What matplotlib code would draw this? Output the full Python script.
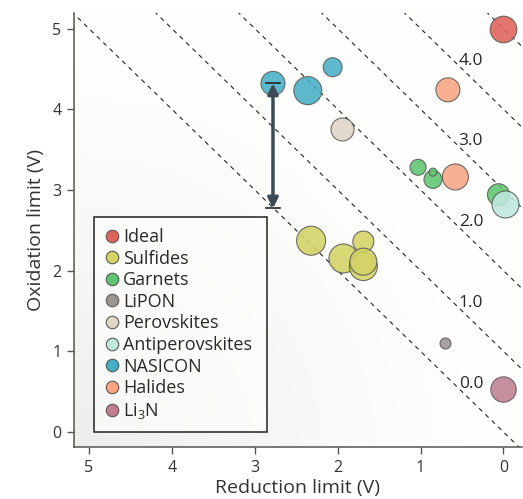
import numpy as np
import matplotlib
matplotlib.use("Agg")
import matplotlib.pyplot as plt
from matplotlib.lines import Line2D

FONT = 'Open Sans'
plt.rcParams['font.family'] = [FONT, 'DejaVu Sans']
plt.rcParams['mathtext.fontset'] = 'custom'
plt.rcParams['mathtext.rm'] = FONT

# ---- data ----
categories = ["Ideal", "Sulfides", "Garnets", "LiPON", "Perovskites",
              "Antiperovskites", "NASICON", "Halides", "Li$_3$N"]
colors = ["#e0625a", "#d3d365", "#5ec46f", "#9b9592", "#ded6c6",
          "#bfe8de", "#45afc4", "#f9a584", "#c07f91"]

# reduction limit (V), oxidation limit (V), bubble radius (px)
ideal_x = [0.0];  ideal_y = [4.99]; ideal_r = [13.3]
sulf_x = [2.32, 1.93, 1.69, 1.69, 1.69]
sulf_y = [2.37, 2.15, 2.36, 2.05, 2.11]
sulf_r = [14.5, 14.5, 10.5, 14.0, 13.5]
garn_x = [1.03, 0.85, 0.85, 0.06]
garn_y = [3.28, 3.13, 3.22, 2.94]
garn_r = [8.0, 9.0, 4.0, 11.0]
lipon_x = [0.70]; lipon_y = [1.10]; lipon_r = [5.5]
perov_x = [1.95]; perov_y = [3.76]; perov_r = [11.5]
anti_x = [-0.02]; anti_y = [2.82]; anti_r = [13.5]
nas_x = [2.78, 2.36, 2.06]; nas_y = [4.32, 4.23, 4.52]; nas_r = [12.0, 14.0, 9.5]
hal_x = [0.67, 0.58]; hal_y = [4.24, 3.16]; hal_r = [12.0, 13.0]
li3n_x = [0.0]; li3n_y = [0.53]; li3n_r = [12.7]

series = [(ideal_x, ideal_y, ideal_r), (sulf_x, sulf_y, sulf_r),
          (garn_x, garn_y, garn_r), (lipon_x, lipon_y, lipon_r),
          (perov_x, perov_y, perov_r), (anti_x, anti_y, anti_r),
          (nas_x, nas_y, nas_r), (hal_x, hal_y, hal_r), (li3n_x, li3n_y, li3n_r)]

window_lines = [0, 1, 2, 3, 4, 5]
window_labels = ["0.0", "1.0", "2.0", "3.0", "4.0"]
arrow_x = 2.78
arrow_top = 4.32
arrow_bot = 2.77

xticks = [5, 4, 3, 2, 1, 0]
yticks = [0, 1, 2, 3, 4, 5]

# ---- figure ----
fig = plt.figure(figsize=(5.23, 4.99), dpi=100)
ax = fig.add_axes([0.1415, 0.1036, 0.856, 0.870])
xlim = (5.18, -0.22)
ylim = (-0.19, 5.19)
ax.set_xlim(*xlim)
ax.set_ylim(*ylim)

# radial gradient background from bottom-left
n = 300
gx, gy = np.meshgrid(np.linspace(0, 1, n), np.linspace(0, 1, n))
d = np.sqrt(gx**2 + gy**2)
t = np.clip(d / 0.9, 0, 1)
shade = 1 - 0.065 * (1 - t) ** 1.2
img = np.dstack([shade * 0.997, shade * 0.997, shade * 0.99])
ax.imshow(img, origin='lower', extent=[0, 1, 0, 1], transform=ax.transAxes,
          aspect='auto', zorder=0, interpolation='bilinear')

# dashed constant-window lines
xs = np.array([xlim[0] + 0.5, xlim[1] - 0.5])
for c in window_lines:
    ax.plot(xs, xs + c, ls=(0, (4, 4)), color='#222222', lw=0.8, zorder=1)
for c, lab in zip(window_lines, window_labels):
    ax.text(0.54, c + 0.60, lab, fontsize=12.5, color='#2a2a2a',
            ha='left', va='center', zorder=2)

# bubbles
for (x, y, r), col in zip(series, colors):
    s = (2 * np.array(r) * 0.72) ** 2
    ax.scatter(x, y, s=s, c=col, edgecolors='#5a5a5a', linewidths=0.8,
               alpha=0.88, zorder=3)

# arrow
acol = '#3c4a54'
ax.annotate('', xy=(arrow_x, arrow_bot), xytext=(arrow_x, arrow_top),
            arrowprops=dict(arrowstyle='<|-|>', color=acol, lw=2.5,
                            mutation_scale=15, shrinkA=0, shrinkB=0), zorder=4)
for yy in (arrow_top, arrow_bot):
    ax.plot([arrow_x - 0.09, arrow_x + 0.09], [yy, yy], color='#222222', lw=1.2, zorder=4)

# axes styling
for sp in ['top', 'right']:
    ax.spines[sp].set_visible(False)
for sp in ['left', 'bottom']:
    ax.spines[sp].set_color('#555555')
    ax.spines[sp].set_linewidth(1.1)
ax.set_xticks(xticks)
ax.set_yticks(yticks)
ax.tick_params(direction='out', length=5, width=1, color='#555555',
               labelsize=11.5, labelcolor='#333333', pad=4)
ax.set_xlabel('Reduction limit (V)', fontsize=14, color='#333333', labelpad=2)
ax.set_ylabel('Oxidation limit (V)', fontsize=14, color='#333333', labelpad=5)

# legend
handles = [Line2D([], [], marker='o', ls='none', markersize=9,
                  markerfacecolor=col, markeredgecolor='#5a5a5a', markeredgewidth=0.8)
           for col in colors]
leg = ax.legend(handles, categories, loc='lower left', mode='expand',
                bbox_to_anchor=(0.0447, 0.0352, 0.3864, 0.5), borderaxespad=0,
                fancybox=False, framealpha=None, edgecolor='#333333',
                fontsize=13, labelspacing=0.2, handletextpad=0.19,
                handlelength=0.8, borderpad=0.62, labelcolor='#2a2a2a')
frame = leg.get_frame()
frame.set_alpha(None)
frame.set_facecolor((1, 1, 1, 0.6))
frame.set_edgecolor('#333333')
frame.set_linewidth(1.2)
leg.set_zorder(5)

fig.savefig('out.png', dpi=100)
